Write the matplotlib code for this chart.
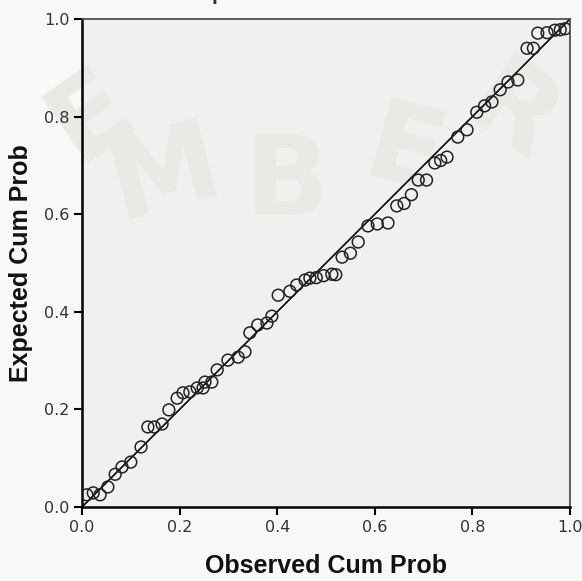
import matplotlib
matplotlib.use("Agg")
import matplotlib.pyplot as plt

# observed / expected cumulative probabilities
observed = [
    0.010, 0.023, 0.037, 0.053, 0.068, 0.082, 0.100, 0.121, 0.135, 0.148,
    0.164, 0.178, 0.195, 0.207, 0.221, 0.236, 0.248, 0.252, 0.266, 0.277,
    0.299, 0.320, 0.334, 0.344, 0.360, 0.379, 0.389, 0.402, 0.426, 0.440,
    0.457, 0.467, 0.480, 0.495, 0.512, 0.520, 0.533, 0.550, 0.566, 0.586,
    0.605, 0.627, 0.645, 0.660, 0.675, 0.689, 0.706, 0.723, 0.735, 0.748,
    0.770, 0.789, 0.809, 0.825, 0.840, 0.857, 0.873, 0.893, 0.912, 0.925,
    0.934, 0.953, 0.969, 0.980, 0.990,
]
expected = [
    0.025, 0.029, 0.025, 0.041, 0.067, 0.082, 0.092, 0.123, 0.164, 0.164,
    0.170, 0.199, 0.223, 0.234, 0.236, 0.244, 0.244, 0.256, 0.256, 0.281,
    0.301, 0.307, 0.318, 0.357, 0.373, 0.377, 0.391, 0.434, 0.442, 0.455,
    0.465, 0.469, 0.470, 0.474, 0.477, 0.476, 0.512, 0.520, 0.543, 0.576,
    0.580, 0.582, 0.617, 0.622, 0.640, 0.670, 0.670, 0.705, 0.710, 0.717,
    0.758, 0.773, 0.809, 0.822, 0.830, 0.855, 0.871, 0.875, 0.940, 0.940,
    0.971, 0.972, 0.977, 0.978, 0.980,
]
ticks = [0.0, 0.2, 0.4, 0.6, 0.8, 1.0]
tick_labels = ["0.0", "0.2", "0.4", "0.6", "0.8", "1.0"]

fig = plt.figure(figsize=(5.82, 5.81), dpi=100)
fig.patch.set_facecolor("#f8f8f6")

ax = fig.add_axes([82 / 582, 74 / 581, 488 / 582, 488 / 581])
ax.set_facecolor("#f0f0ee")

# faint watermark letters
for ch, (wx, wy, rot) in zip(
    "EMBER",
    [(0.02, 0.80, 35), (0.17, 0.68, 15), (0.42, 0.66, 0), (0.66, 0.72, -15), (0.88, 0.80, -35)],
):
    ax.text(wx, wy, ch, transform=ax.transAxes, fontsize=80,
            fontweight="bold", color="#e9e9e6", rotation=rot,
            ha="center", va="center", zorder=0)

ax.plot([0, 1], [0, 1], color="black", linewidth=1.2, zorder=2)
ax.scatter(observed, expected, s=72, facecolors="none",
           edgecolors="#222222", linewidths=1.1, zorder=3)

ax.set_xlim(0, 1)
ax.set_ylim(0, 1)
ax.set_xticks(ticks)
ax.set_xticklabels(tick_labels)
ax.set_yticks(ticks)
ax.set_yticklabels(tick_labels)
ax.tick_params(direction="out", length=6, width=1.5, labelsize=11.5,
               labelcolor="#333333", pad=3)

for side in ["left", "bottom"]:
    ax.spines[side].set_linewidth(1.8)
for side in ["top", "right"]:
    ax.spines[side].set_linewidth(1.2)
    ax.spines[side].set_color("#444444")

ax.set_xlabel("Observed Cum Prob", fontsize=18, fontweight="bold",
              family="Liberation Sans", labelpad=14, color="#111111")
ax.set_ylabel("Expected Cum Prob", fontsize=18, fontweight="bold",
              family="Liberation Sans", labelpad=8, color="#111111")

# title, mostly cut off by the top edge
fig.text(251 / 582, 1.0 + 5 / 581, "Partisipation Growth", ha="center",
         va="center", fontsize=15, fontweight="bold",
         family="Liberation Sans", color="#333333")

fig.savefig("out.png", dpi=100, facecolor=fig.get_facecolor())
